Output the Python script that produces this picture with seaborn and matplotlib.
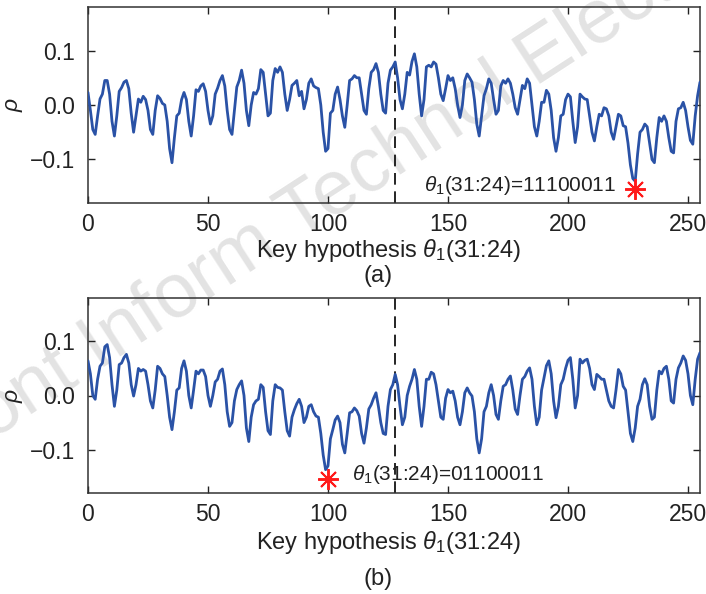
import numpy as np
import pandas as pd
import matplotlib
matplotlib.use("Agg")
import matplotlib.pyplot as plt
import seaborn as sns

# ---------------- data ----------------
key_hypothesis = list(range(256))

rho_a = [
    0.023, -0.01, -0.045, -0.054, -0.02, 0.011, 0.02, 0.045, 0.045, 0.02,
    -0.03, -0.057, -0.02, 0.025, 0.032, 0.042, 0.045, 0.03, -0.015, -0.05,
    -0.02, 0.011, 0.005, 0.016, 0.01, -0.01, -0.045, -0.054, -0.01, 0.017,
    0.012, 0.003, 0.0, -0.03, -0.08, -0.106, -0.06, -0.02, -0.015, 0.01,
    0.023, 0.01, -0.03, -0.057, -0.02, 0.028, 0.025, 0.035, 0.039, 0.025,
    -0.01, -0.035, -0.02, 0.02, 0.031, 0.045, 0.054, 0.035, -0.01, -0.045,
    -0.054, -0.01, 0.033, 0.045, 0.064, 0.04, -0.01, -0.038, 0.0, 0.023,
    0.02, 0.03, 0.065, 0.06, 0.02, -0.02, -0.015, 0.045, 0.067, 0.06,
    0.07, 0.06, 0.02, -0.01, 0.01, 0.036, 0.04, 0.045, 0.017, 0.025,
    -0.007, 0.01, 0.04, 0.048, 0.035, 0.032, 0.03, 0.0, -0.05, -0.085,
    -0.08, -0.015, -0.01, 0.02, 0.033, 0.01, -0.02, -0.041, 0.0, 0.045,
    0.048, 0.054, 0.05, 0.05, 0.02, -0.01, -0.017, 0.03, 0.06, 0.065,
    0.076, 0.06, 0.02, -0.01, -0.015, 0.04, 0.064, 0.07, 0.079, 0.05,
    0.01, -0.007, 0.02, 0.06, 0.055, 0.08, 0.094, 0.07, 0.02, -0.02,
    0.01, 0.07, 0.073, 0.07, 0.079, 0.075, 0.05, 0.02, 0.008, 0.03,
    0.054, 0.045, 0.05, 0.03, 0.0, -0.023, 0.0, 0.045, 0.057, 0.05,
    0.042, 0.01, -0.035, -0.057, -0.02, 0.017, 0.03, 0.048, 0.04, 0.01,
    -0.017, -0.01, 0.035, 0.045, 0.04, 0.048, 0.04, 0.02, -0.005, -0.017,
    0.01, 0.036, 0.03, 0.048, 0.04, 0.0, -0.04, -0.057, -0.03, 0.005,
    0.005, 0.027, 0.02, -0.01, -0.06, -0.085, -0.06, -0.02, -0.017, 0.01,
    0.02, 0.015, -0.03, -0.069, -0.04, 0.02, 0.015, 0.011, 0.01, -0.02,
    -0.05, -0.066, -0.04, -0.017, -0.02, -0.005, -0.007, -0.02, -0.05, -0.063,
    -0.04, -0.017, -0.02, -0.038, -0.04, -0.07, -0.11, -0.135, -0.14, -0.09,
    -0.05, -0.045, -0.035, -0.04, -0.07, -0.1, -0.106, -0.06, -0.023, -0.03,
    -0.02, -0.03, -0.06, -0.085, -0.088, -0.03, -0.007, -0.005, 0.005, -0.01,
    -0.04, -0.065, -0.072, -0.02, 0.017, 0.042,
]

rho_b = [
    0.064, 0.04, 0.0, -0.007, 0.03, 0.054, 0.06, 0.09, 0.094, 0.07,
    0.02, -0.02, 0.01, 0.057, 0.06, 0.07, 0.076, 0.06, 0.02, -0.001,
    0.02, 0.05, 0.045, 0.048, 0.045, 0.02, -0.01, -0.023, 0.01, 0.054,
    0.05, 0.04, 0.035, 0.0, -0.04, -0.063, -0.03, 0.01, 0.014, 0.05,
    0.064, 0.045, 0.0, -0.023, 0.01, 0.045, 0.04, 0.047, 0.047, 0.035,
    0.0, -0.02, 0.0, 0.025, 0.03, 0.045, 0.049, 0.02, -0.03, -0.057,
    -0.05, -0.01, 0.011, 0.02, 0.027, 0.0, -0.06, -0.085, -0.04, -0.017,
    -0.01, -0.007, 0.02, 0.015, -0.03, -0.065, -0.072, -0.01, 0.02, 0.015,
    0.014, 0.01, -0.03, -0.065, -0.075, -0.04, -0.026, -0.015, -0.007, -0.02,
    -0.05, -0.04, -0.02, -0.017, -0.03, -0.038, -0.04, -0.07, -0.11, -0.137,
    -0.13, -0.08, -0.063, -0.045, -0.038, -0.05, -0.09, -0.106, -0.07, -0.032,
    -0.03, -0.023, -0.028, -0.038, -0.07, -0.088, -0.06, -0.025, -0.017, -0.005,
    0.005, -0.02, -0.05, -0.07, -0.072, -0.02, 0.011, 0.02, 0.039, 0.02,
    -0.02, -0.054, -0.04, 0.0, 0.017, 0.03, 0.048, 0.03, -0.02, -0.057,
    -0.02, 0.03, 0.03, 0.043, 0.04, 0.02, -0.01, -0.04, -0.044, -0.005,
    0.011, 0.005, 0.008, -0.01, -0.04, -0.054, -0.03, 0.005, 0.014, 0.005,
    -0.001, -0.03, -0.08, -0.106, -0.08, -0.03, -0.02, 0.005, 0.02, 0.0,
    -0.035, -0.044, -0.01, 0.017, 0.02, 0.03, 0.036, 0.01, -0.025, -0.035,
    0.0, 0.03, 0.035, 0.045, 0.051, 0.03, -0.02, -0.054, -0.04, 0.01,
    0.033, 0.055, 0.064, 0.04, -0.01, -0.041, -0.02, 0.02, 0.03, 0.05,
    0.065, 0.07, 0.03, -0.023, 0.0, 0.067, 0.06, 0.065, 0.067, 0.05,
    0.02, 0.011, 0.039, 0.035, 0.03, 0.03, 0.01, -0.01, -0.02, -0.023,
    0.01, 0.048, 0.04, 0.017, 0.01, -0.03, -0.07, -0.085, -0.06, -0.02,
    -0.007, 0.02, 0.031, 0.02, -0.02, -0.044, -0.04, 0.01, 0.045, 0.04,
    0.05, 0.054, 0.03, -0.01, -0.014, 0.03, 0.051, 0.06, 0.073, 0.065,
    0.04, 0.0, -0.017, 0.03, 0.067, 0.079,
]

correct_key = [228, 100]
correct_rho = [-0.155, -0.155]
key_labels = [r"$\theta_1$(31:24)=11100011", r"$\theta_1$(31:24)=01100011"]
panel_labels = ["(a)", "(b)"]
label_pos = [(140, -0.148), (110, -0.146)]
x_ticks = [0, 50, 100, 150, 200, 250]
y_ticks = [-0.1, 0.0, 0.1]
y_ticklabels = ["\u22120.1", "0.0", "0.1"]
divider = 128

# ---------------- style ----------------
sns.set_style("ticks")
plt.rcParams["font.family"] = ["Liberation Sans", "DejaVu Sans"]
plt.rcParams["mathtext.fontset"] = "custom"
plt.rcParams["mathtext.rm"] = "Liberation Sans"
plt.rcParams["mathtext.it"] = "Liberation Sans:italic"
plt.rcParams["mathtext.bf"] = "Liberation Sans:bold"

W, H = 706, 594
fig = plt.figure(figsize=(W / 100, H / 100), dpi=100)

line_color = "#2a52a6"
text_color = "#222222"
FS = 16.5

boxes = [(88, 7, 700, 203), (88, 298, 700, 493)]
series = [rho_a, rho_b]
xlabel_y = [250, 542]
panel_y = [276, 579]

# watermark (behind everything)
fig.text(340 / W, 1 - 190 / H, "Front Inform Technol Electron", fontsize=55,
         color="#e3e3e3", rotation=33, rotation_mode="anchor",
         ha="center", va="center", zorder=-5)

for i in range(2):
    l, t, r, b = boxes[i]
    ax = fig.add_axes([l / W, 1 - b / H, (r - l) / W, (b - t) / H])
    ax.patch.set_alpha(0)
    df = pd.DataFrame({"key": key_hypothesis, "rho": series[i]})
    sns.lineplot(data=df, x="key", y="rho", ax=ax, color=line_color,
                 linewidth=2.0, zorder=3)
    ax.axvline(divider, color="black", linewidth=1.2, linestyle=(0, (7, 4)), zorder=2)
    ax.plot([correct_key[i]], [correct_rho[i]], linestyle="none",
            marker=(8, 2, 0), markersize=15, markeredgewidth=1.4,
            color="#ff1a1a", zorder=5, clip_on=False)
    ax.text(label_pos[i][0], label_pos[i][1], key_labels[i], fontsize=15,
            color=text_color, ha="left", va="center", zorder=4)
    ax.set_xlim(0, 255)
    ax.set_ylim(-0.18, 0.18)
    ax.set_xticks(x_ticks)
    ax.set_yticks(y_ticks)
    ax.set_yticklabels(y_ticklabels)
    ax.tick_params(direction="in", length=5, width=1, top=True, right=True,
                   labelsize=FS, colors=text_color, pad=7)
    ax.tick_params(axis="y", pad=9)
    for s in ax.spines.values():
        s.set_color("#333333")
        s.set_linewidth(1.1)
    ax.set_xlabel("")
    ax.set_ylabel(r"$\rho$", fontsize=FS, color=text_color, labelpad=4)
    fig.text(388 / W, 1 - xlabel_y[i] / H,
             r"Key hypothesis $\theta_1$(31:24)", fontsize=FS + 0.5, color=text_color,
             ha="center", va="center")
    fig.text(378 / W, 1 - panel_y[i] / H, panel_labels[i],
             fontsize=FS + 0.5, color=text_color, ha="center", va="center")

fig.savefig("out.png", dpi=100)
